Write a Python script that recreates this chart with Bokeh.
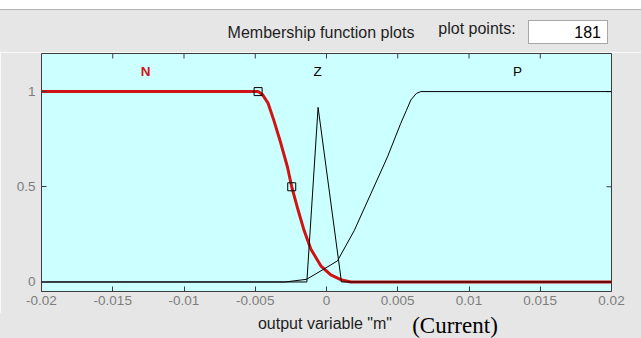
from bokeh.plotting import figure
from bokeh.models import Range1d, LinearAxis, FixedTicker, Label, Div
from bokeh.layouts import column
from bokeh.embed import file_html
from bokeh.resources import INLINE

# Membership functions of output variable "m" (N, Z, P)
n_x = [-0.02, -0.0048, -0.0045, -0.0041, -0.0037, -0.0032, -0.00274, -0.00244,
       -0.00204, -0.00157, -0.0011, -0.0004, 0.0003, 0.001, 0.0017, 0.02]
n_y = [1.0, 1.0, 0.985, 0.939, 0.85, 0.727, 0.604, 0.5,
       0.39, 0.27, 0.173, 0.085, 0.037, 0.012, 0.0, 0.0]

z_x = [-0.02, -0.00138, -0.00059, 0.00105, 0.02]
z_y = [0.0, 0.0, 0.917, 0.0, 0.0]

p_x = [-0.02, -0.0029, -0.0014, -0.0004, 0.00077, 0.00194, 0.00311,
       0.00428, 0.00521, 0.0056, 0.00592, 0.0063, 0.00662, 0.02]
p_y = [0.0, 0.0, 0.014, 0.058, 0.111, 0.269, 0.463,
       0.657, 0.833, 0.90, 0.956, 0.99, 1.0, 1.0]

# parameter handles of the selected function N
n_handle_x = [-0.0048, -0.00244]
n_handle_y = [1.0, 0.5]

# function names and where they sit above the curves
mf_names = ["N", "Z", "P"]
mf_name_x = [-0.0127, -0.00063, 0.0134]
mf_name_y = 1.106

x_ticks = [-0.02, -0.015, -0.01, -0.005, 0, 0.005, 0.01, 0.015, 0.02]
x_tick_labels = ["-0.02", "-0.015", "-0.01", "-0.005", "0", "0.005", "0.01", "0.015", "0.02"]
y_ticks = [0, 0.5, 1]
y_tick_labels = ["0", "0.5", "1"]

plot_points = "181"

W = 641
HEADER_H = 52          # strip with title and point count
FOOT_H = 25            # strip with the variable name
LEFT, RIGHT, TOP, BOTTOM = 41, 30, 1, 22
FRAME_H = 238
FIG_H = TOP + FRAME_H + BOTTOM
X0, X1 = -0.02, 0.02
Y0, Y1 = -0.05, 1.2

PANEL = "#e6e6e6"
AXIS_BG = "#ccffff"
FRAME = "#3c3c3c"
TICK_TEXT = "#7d7d7d"
TEXT = "#1e1e1e"
SANS = "Liberation Sans"
SERIF = "Liberation Serif"
RED = "#d01414"
TICK_LEN = 5

p = figure(width=W, height=FIG_H, output_backend="svg", toolbar_location=None,
           x_range=Range1d(X0, X1), y_range=Range1d(Y0, Y1),
           x_axis_location=None, y_axis_location=None,
           min_border_left=LEFT, min_border_right=RIGHT,
           min_border_top=TOP, min_border_bottom=BOTTOM)
p.background_fill_color = AXIS_BG
p.border_fill_color = PANEL
p.outline_line_color = FRAME
p.outline_line_width = 1
p.xgrid.visible = False
p.ygrid.visible = False


def make_axis(loc, ticks, labels, standoff):
    ax = LinearAxis(ticker=FixedTicker(ticks=ticks))
    ax.axis_line_color = None
    ax.major_tick_in = TICK_LEN
    ax.major_tick_out = 0
    ax.major_tick_line_color = FRAME
    ax.minor_tick_line_color = None
    ax.major_label_overrides = {t: l for t, l in zip(ticks, labels)}
    ax.major_label_text_font = SANS
    ax.major_label_text_font_size = "13.5px"
    ax.major_label_text_color = TICK_TEXT
    ax.major_label_standoff = standoff
    p.add_layout(ax, loc)


make_axis("below", x_ticks, x_tick_labels, 4)
make_axis("left", y_ticks, y_tick_labels, 6)

# inward tick marks along the top and right edges of the axes box
fw = W - LEFT - RIGHT
dx = TICK_LEN / fw * (X1 - X0)
dy = TICK_LEN / FRAME_H * (Y1 - Y0)
p.segment(x0=x_ticks, y0=[Y1] * len(x_ticks), x1=x_ticks, y1=[Y1 - dy] * len(x_ticks),
          line_color=FRAME, line_width=1)
p.segment(x0=[X1] * len(y_ticks), y0=y_ticks, x1=[X1 - dx] * len(y_ticks), y1=y_ticks,
          line_color=FRAME, line_width=1)

# curves: selected function N thick red, the others thin black
p.line(n_x, n_y, line_color=RED, line_width=3)
p.line(z_x, z_y, line_color="black", line_width=1)
p.line(p_x, p_y, line_color="black", line_width=1)
p.scatter(n_handle_x, n_handle_y, marker="square", size=8,
          fill_color=None, line_color="black", line_width=1)

for name, xx in zip(mf_names, mf_name_x):
    p.add_layout(Label(x=xx, y=mf_name_y, text=name,
                       text_font=SANS, text_font_size="13.5px",
                       text_font_style="bold" if name == "N" else "normal",
                       text_color=RED if name == "N" else "black",
                       text_align="center", text_baseline="middle"))


def placed(text, cx, cy, style=""):
    # text centred on (cx, cy) inside a strip
    return (f'<span style="position:absolute;left:{cx}px;top:{cy}px;'
            f'transform:translate(-50%,-50%);white-space:nowrap;{style}">{text}</span>')


header_html = (
    f'<div style="position:relative;width:{W}px;height:{HEADER_H}px;overflow:hidden;'
    f'background:{PANEL};font-family:\'{SANS}\';color:{TEXT};font-size:16px;line-height:1;">'
    f'<div style="position:absolute;left:0;top:0;width:{W}px;height:10px;background:#ffffff;'
    f'border-bottom:1px solid #b4b4b4;"></div>'
    + placed("Membership function plots", 321, 33)
    + placed("plot points:", 477, 29)
    + f'<div style="position:absolute;left:528px;top:20px;width:80px;height:24px;'
      f'box-sizing:border-box;background:#ffffff;border:1px solid #a8a8a8;"></div>'
    + f'<span style="position:absolute;right:{W - 601}px;top:33px;transform:translateY(-50%);'
      f'color:#000000;">{plot_points}</span>'
    + '</div>'
)

footer_html = (
    f'<div style="position:relative;width:{W}px;height:{FOOT_H}px;overflow:hidden;'
    f'background:{PANEL};font-family:\'{SANS}\';color:{TEXT};font-size:16px;line-height:1;">'
    + placed('output variable "m"', 325, 11)
    + placed("(Current)", 455, 12, f"font-family:'{SERIF}';font-size:23px;color:#000000;")
    + '</div>'
)

header = Div(text=header_html, width=W, height=HEADER_H, margin=0)
footer = Div(text=footer_html, width=W, height=FOOT_H, margin=0)

page = column(header, p, footer, spacing=0)

open("out.html", "w").write(file_html(page, INLINE))
